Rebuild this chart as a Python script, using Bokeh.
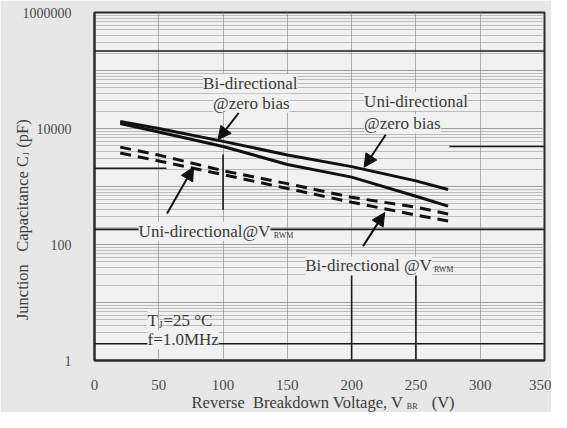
from bokeh.plotting import figure
from bokeh.models import FixedTicker, Label, Arrow, NormalHead, NumeralTickFormatter
from bokeh.embed import file_html
from bokeh.resources import INLINE

# ---- data ----
voltage = [20, 50, 100, 150, 200, 250, 275]
uni_zero_bias = [13200, 10000, 6000, 3500, 2200, 1250, 890]
bi_zero_bias = [12200, 8700, 4900, 2400, 1450, 680, 460]
uni_vrwm = [4770, 3480, 1870, 1120, 650, 440, 335]
bi_vrwm = [3770, 2760, 1600, 925, 537, 322, 255]

x_ticks = [0, 50, 100, 150, 200, 250, 300, 350]
y_ticks = [1, 100, 10000, 1000000]
decades = [1, 10, 100, 1000, 10000, 100000, 1000000]
minor_values = [k * d for d in decades[:-1] for k in range(2, 10)]

# dark rules visible in the scanned grid: (x0, x1, y0, y1)
dark_rules = [
    (0, 350, 217000, 217000),
    (0, 350, 182, 182),
    (0, 350, 1.95, 1.95),
    (0, 56, 2065, 2065),
    (276, 350, 4886, 4886),
    (100, 100, 3570, 399),
    (200, 200, 31.3, 1),
    (250, 250, 31.3, 1),
]

SERIF = "Liberation Serif"
TXT = "#3a3a3a"
BG = "#f1f1f1"
NB = "\u00a0"

p = figure(width=551, height=412, output_backend="svg", toolbar_location=None,
           x_range=(0, 350), y_range=(1, 1000000), y_axis_type="log",
           min_border_left=93, min_border_right=7, min_border_top=12,
           min_border_bottom=52)
p.title.visible = False
p.background_fill_color = BG
p.border_fill_color = "#e7e7e7"
p.outline_line_color = "#2a2a2a"
p.outline_line_width = 2

# axes
p.xaxis.ticker = FixedTicker(ticks=x_ticks)
p.yaxis.ticker = FixedTicker(ticks=y_ticks)
p.yaxis.formatter = NumeralTickFormatter(format="0")
for ax in (p.xaxis, p.yaxis):
    ax.axis_line_color = "#2a2a2a"
    ax.axis_line_width = 2
    ax.major_tick_line_color = None
    ax.minor_tick_line_color = None
    ax.major_label_text_font = SERIF
    ax.major_label_text_color = "#4a4a4a"
p.xaxis.major_label_text_font_size = "15px"
p.yaxis.major_label_text_font_size = "14px"
p.yaxis.major_label_standoff = 17
p.xaxis.major_label_standoff = 13

# grid
p.xgrid.ticker = FixedTicker(ticks=x_ticks)
p.xgrid.grid_line_color = "#9c9c9c"
p.xgrid.grid_line_alpha = 0.8
p.ygrid.ticker = FixedTicker(ticks=decades, minor_ticks=minor_values)
p.ygrid.grid_line_color = "#8a8a8a"
p.ygrid.grid_line_alpha = 0.8
p.ygrid.minor_grid_line_color = "#9a9a9a"
p.ygrid.minor_grid_line_alpha = 0.6

# dark rules of the scan
p.segment(x0=[r[0] for r in dark_rules], x1=[r[1] for r in dark_rules],
          y0=[r[2] for r in dark_rules], y1=[r[3] for r in dark_rules],
          line_color="#1a1a1a", line_width=1.6)

# series
p.line(voltage, uni_zero_bias, line_color="#111111", line_width=3)
p.line(voltage, bi_zero_bias, line_color="#111111", line_width=3)
p.line(voltage, uni_vrwm, line_color="#111111", line_width=3, line_dash="11 7")
p.line(voltage, bi_vrwm, line_color="#111111", line_width=3, line_dash="11 7")


def mk(x, y, text, size="17px", align="left", angle=0, bg=BG):
    return Label(x=x, y=y, text=text, text_font=SERIF, text_font_size=size,
                 text_color=TXT, text_align=align, text_baseline="middle",
                 angle=angle, background_fill_color=bg if bg else None,
                 background_fill_alpha=1.0 if bg else 0.0)


def lab(*args, **kw):
    p.add_layout(mk(*args, **kw))


# in-plot annotations
lab(121.2, 59700, "Bi-directional", align="center")
lab(122, 27300, "@zero bias", align="center")
lab(209.7, 29500, "Uni-directional")
lab(209.7, 12000, "@zero bias")
lab(34.3, 168.7, "Uni-directional@V")
lab(139.5, 144, "RWM", size="8px", bg=None)
lab(163.9, 42.8, "Bi-directional @V")
lab(264, 36.5, "RWM", size="8px", bg=None)
lab(41.2, 4.98, "T")
lab(49.9, 4.2, "J", size="10px", bg=None)
lab(53.6, 4.98, "=25 °C", bg=None)
lab(41.2, 2.275, "f=1.0MHz")

# arrows: (x_start, y_start, x_end, y_end)
arrows = [
    (112.1, 18500, 96.1, 6420),
    (226.5, 7810, 209.7, 2148),
    (56.4, 341, 77.0, 2148),
    (208.9, 93.7, 225.7, 355),
]
for xs, ys, xe, ye in arrows:
    p.add_layout(Arrow(end=NormalHead(size=13, fill_color="#111111", line_color="#111111"),
                       x_start=xs, y_start=ys, x_end=xe, y_end=ye,
                       line_color="#111111", line_width=2))

# axis titles (in side panels so they are not clipped); gaps leave room for subscripts
p.add_layout(mk(75.5, 0.189, "Reverse" + NB * 2 + "Breakdown Voltage, V" + NB * 7 + "(V)",
                size="16.5px", bg=None), "below")
p.add_layout(mk(-55.9, 4.98, "Junction" + NB * 3 + "Capacitance C" + NB * 2 + "(pF)",
                size="16.5px", angle=1.5708, bg=None), "left")
p.add_layout(mk(242.9, 0.161, "BR", size="8px", bg=None), "above")
p.add_layout(mk(-52.8, 3420, "J", size="8px", angle=1.5708, bg=None), "above")

open("out.html", "w").write(file_html(p, INLINE))
